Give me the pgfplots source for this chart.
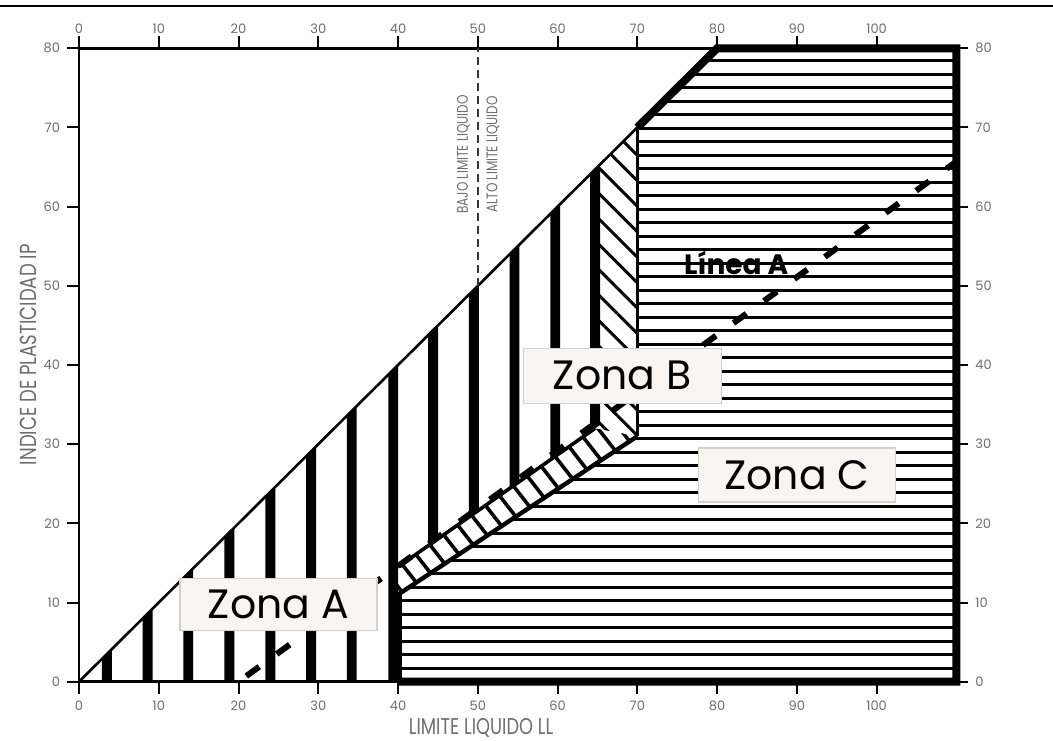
\documentclass[border=0pt]{standalone}
\usepackage{pgfplots}
\pgfplotsset{compat=1.18}
\usetikzlibrary{patterns.meta}
\usepackage{fontspec}
\setmainfont{Poppins}
\newfontfamily\narrowfont[FakeStretch=0.78]{Poppins}
\definecolor{tickgray}{HTML}{6E6E6E}
\definecolor{boxfill}{HTML}{F8F5F2}
\definecolor{boxdraw}{HTML}{D6D0CB}
\begin{document}
\begin{tikzpicture}
\path[use as bounding box] (-39.5pt,-29.15pt) rectangle (487pt,340.85pt);
\draw[line width=1pt] (-39.5pt,337.85pt) -- (487pt,337.85pt);
\pgfplotsset{
  common/.style={
    scale only axis, width=438.7pt, height=316.7pt,
    xmin=0, xmax=110, ymin=0, ymax=80,
    xtick={0,10,...,100}, ytick={0,10,...,80},
    tick align=outside, major tick length=6pt,
    /pgf/number format/assume math mode=true,
    tick label style={font=\fontsize{6.5}{7}\selectfont, text=tickgray},
    clip=false,
  }
}
\begin{axis}[common,
  at={(0,0)}, anchor=south west,
  xtick pos=both, ytick pos=both,
  xticklabel pos=lower, yticklabel pos=left,
  axis line style={line width=1.4pt},
  tick style={black, line width=1pt},
]
% Zone C horizontal hatch lines
\addplot[black, line width=1.4pt, unbounded coords=jump, forget plot] table {
x y
40 1.705
110 1.705
nan nan
40 3.41
110 3.41
nan nan
40 5.115
110 5.115
nan nan
40 6.82
110 6.82
nan nan
40 8.525
110 8.525
nan nan
40 10.23
110 10.23
nan nan
41.40 11.935
110 11.935
nan nan
43.96 13.64
110 13.64
nan nan
46.52 15.345
110 15.345
nan nan
49.08 17.05
110 17.05
nan nan
51.63 18.755
110 18.755
nan nan
54.19 20.46
110 20.46
nan nan
56.75 22.165
110 22.165
nan nan
59.31 23.87
110 23.87
nan nan
61.86 25.575
110 25.575
nan nan
64.42 27.28
110 27.28
nan nan
66.98 28.985
110 28.985
nan nan
69.54 30.69
110 30.69
nan nan
70 32.395
110 32.395
nan nan
70 34.1
110 34.1
nan nan
70 35.805
110 35.805
nan nan
70 37.51
110 37.51
nan nan
70 39.215
110 39.215
nan nan
70 40.92
110 40.92
nan nan
70 42.625
110 42.625
nan nan
70 44.33
110 44.33
nan nan
70 46.035
110 46.035
nan nan
70 47.74
110 47.74
nan nan
70 49.445
110 49.445
nan nan
70 51.15
110 51.15
nan nan
70 52.855
110 52.855
nan nan
70 54.56
110 54.56
nan nan
70 56.265
110 56.265
nan nan
70 57.97
110 57.97
nan nan
70 59.675
110 59.675
nan nan
70 61.38
110 61.38
nan nan
70 63.085
110 63.085
nan nan
70 64.79
110 64.79
nan nan
70 66.495
110 66.495
nan nan
70 68.2
110 68.2
nan nan
70 69.905
110 69.905
nan nan
71.61 71.61
110 71.61
nan nan
73.315 73.315
110 73.315
nan nan
75.02 75.02
110 75.02
nan nan
76.725 76.725
110 76.725
nan nan
78.43 78.43
110 78.43
};
% Zone B hatch (strip and vertical part)
\addplot[draw=none, pattern={Lines[angle=-52,distance=8.5pt,line width=1.8pt]}, forget plot]
  coordinates {(40,11) (70,31) (64.7,32.0) (40,14.5)} -- cycle;
\addplot[draw=none, pattern={Lines[angle=-45,distance=9pt,line width=1.5pt]}, forget plot]
  coordinates {(64.7,32.0) (70,31) (70,70) (64.7,64.7)} -- cycle;
% Zone A vertical bars
\addplot[fill=black, draw=none, forget plot] coordinates {(2.88,0) (4.12,0) (4.12,4.12) (2.88,2.88)} -- cycle;
\addplot[fill=black, draw=none, forget plot] coordinates {(7.98,0) (9.22,0) (9.22,9.22) (7.98,7.98)} -- cycle;
\addplot[fill=black, draw=none, forget plot] coordinates {(13.08,0) (14.32,0) (14.32,14.32) (13.08,13.08)} -- cycle;
\addplot[fill=black, draw=none, forget plot] coordinates {(18.23,0) (19.47,0) (19.47,19.47) (18.23,18.23)} -- cycle;
\addplot[fill=black, draw=none, forget plot] coordinates {(23.38,0) (24.62,0) (24.62,24.62) (23.38,23.38)} -- cycle;
\addplot[fill=black, draw=none, forget plot] coordinates {(28.48,0) (29.72,0) (29.72,29.72) (28.48,28.48)} -- cycle;
\addplot[fill=black, draw=none, forget plot] coordinates {(33.58,0) (34.82,0) (34.82,34.82) (33.58,33.58)} -- cycle;
\addplot[fill=black, draw=none, forget plot] coordinates {(38.78,0) (40.02,0) (40.02,40.02) (38.78,38.78)} -- cycle;
\addplot[fill=black, draw=none, forget plot] coordinates {(43.78,17.18) (45.02,18.05) (45.02,45.02) (43.78,43.78)} -- cycle;
\addplot[fill=black, draw=none, forget plot] coordinates {(48.88,20.79) (50.12,21.67) (50.12,50.12) (48.88,48.88)} -- cycle;
\addplot[fill=black, draw=none, forget plot] coordinates {(53.98,24.40) (55.22,25.28) (55.22,55.22) (53.98,53.98)} -- cycle;
\addplot[fill=black, draw=none, forget plot] coordinates {(59.08,28.01) (60.32,28.89) (60.32,60.32) (59.08,59.08)} -- cycle;
\addplot[fill=black, draw=none, forget plot] coordinates {(64.08,31.55) (65.32,32.43) (65.32,65.32) (64.08,64.08)} -- cycle;
% Zone B upper edge
\addplot[black, line width=1.8pt, forget plot] coordinates {(40,14.5) (64.7,32.0)};
% Diagonal (upper limit)
\addplot[black, line width=1.3pt, forget plot] coordinates {(0,0) (70,70)};
% Zone C border
\addplot[black, line width=4pt, line join=miter, forget plot] coordinates {(40,0) (110,0) (110,80) (80,80) (70,70)};
\addplot[black, line width=1.8pt, forget plot] coordinates {(70,70) (70,31)};
\addplot[black, line width=2.2pt, forget plot] coordinates {(70,31) (40,11)};
\addplot[black, line width=4pt, forget plot] coordinates {(40,0) (40,11)};
% Linea A
\addplot[black, line width=3pt, dash pattern=on 8pt off 10.8pt, dash phase=14pt, forget plot] coordinates {(20,0) (110,65.7)};
% LL = 50 divider
\addplot[black!80, line width=1pt, dash pattern=on 4pt off 2.5pt, forget plot] coordinates {(50,50) (50,80)};
% Labels
\node[rotate=90, text=tickgray, font=\narrowfont\fontsize{7.7}{8}\selectfont] at (axis cs:48.2,66.6) {BAJO LIMITE LIQUIDO};
\node[rotate=90, text=tickgray, font=\narrowfont\fontsize{7.7}{8}\selectfont] at (axis cs:51.9,66.6) {ALTO LIMITE LIQUIDO};
\node[fill=boxfill, draw=boxdraw, line width=0.6pt, minimum width=98.5pt, minimum height=26pt, inner sep=0pt, font=\fontsize{20.5}{21}\selectfont] at (axis cs:25,9.8) {Zona A};
\node[fill=boxfill, draw=boxdraw, line width=0.6pt, minimum width=99pt, minimum height=27.5pt, inner sep=0pt, font=\fontsize{20.5}{21}\selectfont] at (axis cs:68.1,38.65) {Zona B};
\node[fill=boxfill, draw=boxdraw, line width=0.6pt, minimum width=98.5pt, minimum height=27pt, inner sep=0pt, font=\fontsize{20.5}{21}\selectfont] at (axis cs:90,26.1) {Zona C};
\node[font=\bfseries\fontsize{14}{14}\selectfont] at (axis cs:82.4,52.9) {Línea A};
\node[text=tickgray, font=\narrowfont\fontsize{11.4}{12}\selectfont] at (axis cs:50.4,-5.8) {LIMITE LIQUIDO LL};
\node[rotate=90, text=tickgray, font=\narrowfont\fontsize{11.6}{12}\selectfont] at (axis cs:-6.4,41.3) {INDICE DE PLASTICIDAD IP};
\end{axis}
\begin{axis}[common,
  at={(0,0)}, anchor=south west,
  axis line style={draw=none},
  tick style={draw=none},
  xticklabel pos=upper, yticklabel pos=right,
  xtick pos=upper, ytick pos=right,
  xticklabel style={yshift=-2.3pt},
]
\addplot[draw=none, forget plot] coordinates {(0,0) (110,80)};
\end{axis}
\end{tikzpicture}
\end{document}
